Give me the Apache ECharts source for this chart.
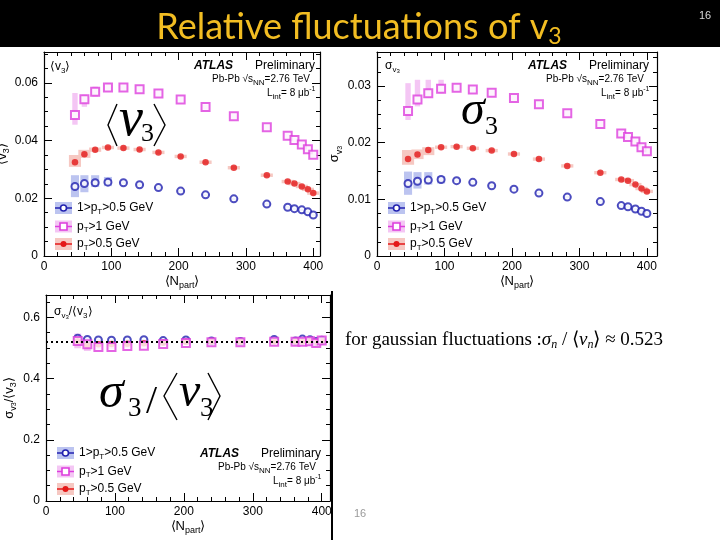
<!DOCTYPE html>
<html>
<head>
<meta charset="utf-8">
<script src="https://cdn.jsdelivr.net/npm/echarts@6/dist/echarts.min.js"></script>
<style>
html, body { margin: 0; padding: 0; background: #fff; }
#main { width: 720px; height: 540px; }
</style>
</head>
<body>
<div id="main"></div>
<script>
// centrality bins, <Npart>
var npart = [46, 60, 76, 95, 118, 142, 170, 203, 240, 282, 331, 362, 372, 383, 392, 400];

// <v3>
var v3Blue   = [0.0241, 0.0251, 0.0254, 0.0256, 0.0254, 0.0247, 0.0237, 0.0225, 0.0212, 0.0198, 0.0180, 0.0169, 0.0164, 0.0160, 0.0153, 0.0142];
var v3BlueLo = [0.0204, 0.0221, 0.0239, 0.0242, 0.0250, 0.0243, 0.0233, 0.0221, 0.0208, 0.0194, 0.0176, 0.0165, 0.0160, 0.0156, 0.0149, 0.0138];
var v3BlueHi = [0.0280, 0.0280, 0.0280, 0.0274, 0.0258, 0.0251, 0.0241, 0.0229, 0.0216, 0.0202, 0.0184, 0.0173, 0.0168, 0.0164, 0.0157, 0.0146];
var v3Pink   = [0.0489, 0.0543, 0.0569, 0.0584, 0.0584, 0.0578, 0.0563, 0.0542, 0.0516, 0.0484, 0.0446, 0.0417, 0.0402, 0.0386, 0.0370, 0.0351];
var v3PinkLo = [0.0455, 0.0517, 0.0552, 0.0576, 0.0575, 0.0569, 0.0554, 0.0533, 0.0507, 0.0475, 0.0437, 0.0408, 0.0393, 0.0377, 0.0361, 0.0342];
var v3PinkHi = [0.0565, 0.0559, 0.0587, 0.0600, 0.0593, 0.0587, 0.0572, 0.0551, 0.0525, 0.0493, 0.0455, 0.0426, 0.0411, 0.0395, 0.0379, 0.0360];
var v3Red    = [0.0325, 0.0353, 0.0368, 0.0376, 0.0374, 0.0369, 0.0359, 0.0345, 0.0325, 0.0306, 0.0280, 0.0258, 0.0251, 0.0241, 0.0231, 0.0218];
var v3RedLo  = [0.0309, 0.0340, 0.0361, 0.0370, 0.0368, 0.0363, 0.0353, 0.0339, 0.0319, 0.0300, 0.0274, 0.0252, 0.0245, 0.0235, 0.0225, 0.0212];
var v3RedHi  = [0.0350, 0.0368, 0.0376, 0.0382, 0.0380, 0.0375, 0.0365, 0.0351, 0.0331, 0.0312, 0.0286, 0.0264, 0.0257, 0.0247, 0.0237, 0.0224];

// sigma_v3
var sgBlue   = [0.0128, 0.0132, 0.0134, 0.0135, 0.0133, 0.0130, 0.0124, 0.0118, 0.0111, 0.0104, 0.0096, 0.0089, 0.0087, 0.0083, 0.0079, 0.0075];
var sgBlueLo = [0.0108, 0.0119, 0.0126, 0.0128, 0.0131, 0.0128, 0.0122, 0.0116, 0.0109, 0.0102, 0.0094, 0.0087, 0.0085, 0.0081, 0.0077, 0.0073];
var sgBlueHi = [0.0149, 0.0148, 0.0148, 0.0141, 0.0135, 0.0132, 0.0126, 0.0120, 0.0113, 0.0106, 0.0098, 0.0091, 0.0089, 0.0085, 0.0081, 0.0077];
var sgPink   = [0.0256, 0.0276, 0.0287, 0.0295, 0.0297, 0.0294, 0.0288, 0.0279, 0.0268, 0.0252, 0.0233, 0.0216, 0.0210, 0.0202, 0.0192, 0.0185];
var sgPinkLo = [0.0240, 0.0264, 0.0279, 0.0287, 0.0292, 0.0289, 0.0283, 0.0274, 0.0263, 0.0247, 0.0228, 0.0211, 0.0205, 0.0197, 0.0187, 0.0180];
var sgPinkHi = [0.0305, 0.0311, 0.0311, 0.0311, 0.0302, 0.0299, 0.0293, 0.0284, 0.0273, 0.0257, 0.0238, 0.0221, 0.0215, 0.0207, 0.0197, 0.0190];
var sgRed    = [0.0171, 0.0179, 0.0187, 0.0192, 0.0193, 0.0190, 0.0186, 0.0180, 0.0171, 0.0159, 0.0147, 0.0135, 0.0133, 0.0126, 0.0119, 0.0114];
var sgRedLo  = [0.0161, 0.0171, 0.0178, 0.0189, 0.0190, 0.0187, 0.0183, 0.0177, 0.0168, 0.0156, 0.0144, 0.0132, 0.0130, 0.0123, 0.0116, 0.0111];
var sgRedHi  = [0.0187, 0.0188, 0.0192, 0.0195, 0.0196, 0.0193, 0.0189, 0.0183, 0.0174, 0.0162, 0.0150, 0.0138, 0.0136, 0.0129, 0.0122, 0.0117];

// sigma_v3 / <v3>
var rtBlue    = [0.532, 0.528, 0.526, 0.525, 0.526, 0.527, 0.524, 0.526, 0.523, 0.521, 0.528, 0.523, 0.529, 0.527, 0.521, 0.525];
var rtBlueSys = [0.008, 0.006, 0.004, 0.004, 0.003, 0.003, 0.003, 0.003, 0.003, 0.003, 0.003, 0.003, 0.003, 0.003, 0.003, 0.003];
var rtPink    = [0.523, 0.512, 0.503, 0.503, 0.506, 0.507, 0.513, 0.516, 0.519, 0.519, 0.520, 0.520, 0.520, 0.522, 0.516, 0.524];
var rtPinkSys = [0.024, 0.022, 0.008, 0.006, 0.006, 0.006, 0.006, 0.006, 0.006, 0.006, 0.006, 0.006, 0.006, 0.006, 0.006, 0.006];
var rtRed     = [0.522, 0.510, 0.512, 0.513, 0.514, 0.515, 0.517, 0.520, 0.521, 0.520, 0.521, 0.521, 0.521, 0.522, 0.519, 0.523];
var rtRedSys  = [0.010, 0.008, 0.006, 0.005, 0.005, 0.005, 0.005, 0.005, 0.005, 0.005, 0.005, 0.005, 0.005, 0.005, 0.005, 0.005];
var gaussRatio = 0.523;

var legendNames = ['1>p{s|T}>0.5 GeV', 'p{s|T}>1 GeV', 'p{s|T}>0.5 GeV'];

var FONT = '"Liberation Sans", Arial, Helvetica, sans-serif';
var SERIF = '"Liberation Serif", "Times New Roman", serif';
var BLUE = '#2222b0', PINK = '#dd3ddd', RED = '#e41818';
var BLUE_BAND = '#bcc4f0', PINK_BAND = '#f4c6f4', RED_BAND = '#f6c8c2';

var Chart = echarts.init(document.getElementById('main'));

function axes(gi, xmax, ymax, yint) {
  var base = {
    gridIndex: gi, type: 'value', min: 0,
    axisLine: { show: true, onZero: false, lineStyle: { color: '#000', width: 1.2 } },
    axisTick: { show: true, inside: true, length: 8, lineStyle: { color: '#000' } },
    minorTick: { show: true, length: 4, lineStyle: { color: '#000' } },
    splitLine: { show: false },
    axisLabel: { fontFamily: FONT, fontSize: 12, color: '#000', showMaxLabel: false }
  };
  var xb = echarts.util.merge({ position: 'bottom', max: xmax, interval: 100, minorTick: { splitNumber: 5 },
    axisLabel: { margin: 5 },
    name: '⟨N{s|part}⟩', nameLocation: 'middle', nameGap: 16,
    nameTextStyle: { fontFamily: FONT, fontSize: 13, color: '#000', rich: { s: { fontSize: 9, padding: [9, 0, 0, 0], verticalAlign: 'bottom' } } }
  }, base, false);
  var xt = echarts.util.merge({ position: 'top', max: xmax, interval: 100, minorTick: { splitNumber: 5 },
    axisLabel: { show: false } }, base, false);
  var yl = echarts.util.merge({ position: 'left', max: ymax, interval: yint, minorTick: { splitNumber: 4 },
    axisLabel: { margin: 6 } }, base, false);
  var yr = echarts.util.merge({ position: 'right', max: ymax, interval: yint, minorTick: { splitNumber: 4 },
    axisLabel: { show: false } }, base, false);
  return { x: [xb, xt], y: [yl, yr] };
}

var a0 = axes(0, 410, 0.0707, 0.02);
var a1 = axes(1, 415, 0.036, 0.01);
var a2 = axes(2, 412, 0.673, 0.2);

var yNameStyle = { fontFamily: FONT, fontSize: 13, color: '#000',
  rich: { s: { fontSize: 9, padding: [8, 0, 0, 0], verticalAlign: 'bottom' },
          ss: { fontSize: 7, padding: [11, 0, 0, 0], verticalAlign: 'bottom' } } };
a0.y[0].name = '⟨v{s|3}⟩';
a1.y[0].name = 'σ{s|v}{ss|3}';
a2.y[0].name = 'σ{s|v}{ss|3}/⟨v{s|3}⟩';
[a0, a1, a2].forEach(function (a) {
  a.y[0].nameLocation = 'middle';
  a.y[0].nameRotate = 90;
  a.y[0].nameGap = 28;
  a.y[0].nameTextStyle = yNameStyle;
});

function band(gi, xs, lo, hi, halfW, color) {
  return {
    type: 'custom', xAxisIndex: 2 * gi, yAxisIndex: 2 * gi, silent: true, z: 1,
    data: xs.map(function (x, i) { return [x, lo[i], hi[i]]; }),
    renderItem: function (params, api) {
      var p1 = api.coord([api.value(0) - halfW, api.value(2)]);
      var p2 = api.coord([api.value(0) + halfW, api.value(1)]);
      return { type: 'rect', shape: { x: p1[0], y: p1[1], width: p2[0] - p1[0], height: p2[1] - p1[1] },
        style: { fill: color } };
    }
  };
}

function symBand(gi, xs, val, sys, halfW, color) {
  var lo = val.map(function (v, i) { return v - sys[i]; });
  var hi = val.map(function (v, i) { return v + sys[i]; });
  return band(gi, xs, lo, hi, halfW, color);
}

function pts(gi, xs, ys, kind, z) {
  var s = { type: 'scatter', xAxisIndex: 2 * gi, yAxisIndex: 2 * gi, silent: true, z: z,
    data: xs.map(function (x, i) { return [x, ys[i]]; }) };
  if (kind === 'blue') {
    s.symbol = 'emptyCircle'; s.symbolSize = 7;
    s.itemStyle = { color: BLUE, borderColor: BLUE, borderWidth: 1.6 };
  } else if (kind === 'pink') {
    s.symbol = 'emptyRect'; s.symbolSize = 8;
    s.itemStyle = { color: PINK, borderColor: PINK, borderWidth: 1.7 };
  } else {
    s.symbol = 'circle'; s.symbolSize = 6.5;
    s.itemStyle = { color: RED };
  }
  return s;
}

var redRatio = pts(2, npart, rtRed, 'red', 3);
redRatio.markLine = { silent: true, symbol: 'none', label: { show: false },
  lineStyle: { type: [2, 3], color: '#000', width: 2 }, data: [{ yAxis: gaussRatio }] };

var series = [
  band(0, npart, v3PinkLo, v3PinkHi, 4, PINK_BAND),
  band(0, npart, v3RedLo, v3RedHi, 9, RED_BAND),
  band(0, npart, v3BlueLo, v3BlueHi, 6, BLUE_BAND),
  pts(0, npart, v3Pink, 'pink', 4),
  pts(0, npart, v3Red, 'red', 4),
  pts(0, npart, v3Blue, 'blue', 4),

  band(1, npart, sgPinkLo, sgPinkHi, 4, PINK_BAND),
  band(1, npart, sgRedLo, sgRedHi, 9, RED_BAND),
  band(1, npart, sgBlueLo, sgBlueHi, 6, BLUE_BAND),
  pts(1, npart, sgPink, 'pink', 4),
  pts(1, npart, sgRed, 'red', 4),
  pts(1, npart, sgBlue, 'blue', 4),

  symBand(2, npart, rtPink, rtPinkSys, 5, PINK_BAND),
  symBand(2, npart, rtRed, rtRedSys, 6, RED_BAND),
  symBand(2, npart, rtBlue, rtBlueSys, 5, BLUE_BAND),
  pts(2, npart, rtBlue, 'blue', 3),
  redRatio,
  pts(2, npart, rtPink, 'pink', 4)
];

// ---------- graphic (slide decorations, labels, legends) ----------
function txt(x, y, text, st) {
  return { type: 'text', x: x, y: y, silent: true, z: 10,
    style: Object.assign({ text: text, fill: '#000', fontFamily: FONT, fontSize: 12,
      verticalAlign: 'middle', align: 'left' }, st || {}) };
}
var subRich = {
  s: { fontSize: 8, padding: [7, 0, 0, 0], verticalAlign: 'bottom' },
  ss: { fontSize: 6, padding: [10, 0, 0, 0], verticalAlign: 'bottom' },
  u: { fontSize: 7, padding: [0, 0, 6, 0], verticalAlign: 'top' }
};

function stamp(x, y) {
  return [
    txt(x, y, 'ATLAS', { fontSize: 12, fontWeight: 'bold', fontStyle: 'italic' }),
    txt(x + 61, y, 'Preliminary', { fontSize: 12 }),
    txt(x + 18, y + 13, 'Pb-Pb √s{s|NN}=2.76 TeV', { fontSize: 10, rich: subRich }),
    txt(x + 73, y + 27, 'L{s|int}= 8 μb{u|-1}', { fontSize: 10, rich: subRich })
  ];
}

function legend(x, y) {
  var out = [];
  var kinds = ['blue', 'pink', 'red'];
  var bands = [BLUE_BAND, PINK_BAND, RED_BAND];
  var cols = [BLUE, PINK, RED];
  var dy = [0, 18.5, 36];
  kinds.forEach(function (k, i) {
    var yy = y + dy[i];
    out.push({ type: 'rect', silent: true, z: 10, shape: { x: x, y: yy - 6, width: 17, height: 12 }, style: { fill: bands[i] } });
    out.push({ type: 'line', silent: true, z: 11, shape: { x1: x, y1: yy, x2: x + 17, y2: yy }, style: { stroke: cols[i], lineWidth: 1.5 } });
    if (k === 'blue') {
      out.push({ type: 'circle', silent: true, z: 12, shape: { cx: x + 8.5, cy: yy, r: 3 }, style: { fill: '#fff', stroke: cols[i], lineWidth: 1.6 } });
    } else if (k === 'pink') {
      out.push({ type: 'rect', silent: true, z: 12, shape: { x: x + 5, y: yy - 3.5, width: 7, height: 7 }, style: { fill: '#fff', stroke: cols[i], lineWidth: 1.6 } });
    } else {
      out.push({ type: 'circle', silent: true, z: 12, shape: { cx: x + 8.5, cy: yy, r: 3 }, style: { fill: cols[i] } });
    }
    out.push(txt(x + 22, yy, legendNames[i], { fontSize: 12, rich: subRich }));
  });
  return out;
}

function bracket(pts) {
  return { type: 'polyline', silent: true, z: 10, shape: { points: pts }, style: { stroke: '#000', lineWidth: 1.4, fill: null } };
}

var graphics = [
  { type: 'rect', silent: true, z: 0, shape: { x: 0, y: 0, width: 720, height: 47 }, style: { fill: '#000' } },
  txt(359, 27, '{t|Relative fluctuations of v}{b|3}', { align: 'center',
    rich: { t: { fontFamily: 'Lato, "Open Sans", sans-serif', fontSize: 36, fill: '#f2bd22' },
            b: { fontFamily: 'Lato, "Open Sans", sans-serif', fontSize: 23, fill: '#f2bd22', padding: [20, 0, 0, 0], verticalAlign: 'bottom' } } }),
  txt(705, 16, '16', { align: 'center', fontSize: 11, fill: '#d8d8d8' }),
  txt(360, 514, '16', { align: 'center', fontSize: 11, fill: '#9a9a9a' }),
  { type: 'rect', silent: true, z: 10, shape: { x: 331, y: 291, width: 2, height: 249 }, style: { fill: '#000' } },

  // in-frame labels
  txt(50, 67, '⟨v{s|3}⟩', { fontSize: 12, rich: subRich }),
  txt(385, 66, 'σ{s|v}{ss|3}', { fontSize: 12, rich: subRich }),
  txt(54, 312, 'σ{s|v}{ss|3}/⟨v{s|3}⟩', { fontSize: 12, rich: subRich }),

  // big formulas
  bracket([[117, 104], [108, 125], [117, 146]]),
  bracket([[154, 104], [165, 125], [154, 146]]),
  txt(119, 121, 'v', { fontFamily: SERIF, fontStyle: 'italic', fontSize: 54 }),
  txt(141, 134, '3', { fontFamily: SERIF, fontSize: 26 }),

  txt(461, 111, 'σ', { fontFamily: SERIF, fontStyle: 'italic', fontSize: 48 }),
  txt(485, 127, '3', { fontFamily: SERIF, fontSize: 26 }),

  txt(99, 394, 'σ', { fontFamily: SERIF, fontStyle: 'italic', fontSize: 50 }),
  txt(128, 409, '3', { fontFamily: SERIF, fontSize: 27 }),
  txt(146, 402, '/', { fontFamily: SERIF, fontSize: 40 }),
  bracket([[177, 373], [164, 396], [177, 420]]),
  bracket([[208, 373], [220, 396], [208, 420]]),
  txt(179, 393, 'v', { fontFamily: SERIF, fontStyle: 'italic', fontSize: 48 }),
  txt(200, 409, '3', { fontFamily: SERIF, fontSize: 27 }),

  // gaussian note
  txt(345, 340, '{n|for gaussian fluctuations :}{i|σ}{k|n}{n| / ⟨}{i|v}{k|n}{n|⟩ ≈ 0.523}', {
    rich: { n: { fontFamily: SERIF, fontSize: 19 },
            i: { fontFamily: SERIF, fontSize: 19, fontStyle: 'italic' },
            k: { fontFamily: SERIF, fontSize: 12, fontStyle: 'italic', padding: [10, 0, 0, 0], verticalAlign: 'bottom' } } })
];

graphics = graphics
  .concat(stamp(194, 66)).concat(legend(55, 208))
  .concat(stamp(528, 66)).concat(legend(388, 208))
  .concat(stamp(200, 454)).concat(legend(57, 453));

option = {
  backgroundColor: '#fff',
  animation: false,
  grid: [
    { left: 44, top: 52, width: 276, height: 204, containLabel: false, outerBoundsMode: 'none' },
    { left: 377, top: 52, width: 280, height: 204, containLabel: false, outerBoundsMode: 'none' },
    { left: 46, top: 295, width: 284, height: 206, containLabel: false, outerBoundsMode: 'none' }
  ],
  xAxis: a0.x.concat(a1.x, a2.x),
  yAxis: a0.y.concat(a1.y, a2.y),
  series: series,
  graphic: graphics
};

Chart.setOption(option);
</script>
</body>
</html>
